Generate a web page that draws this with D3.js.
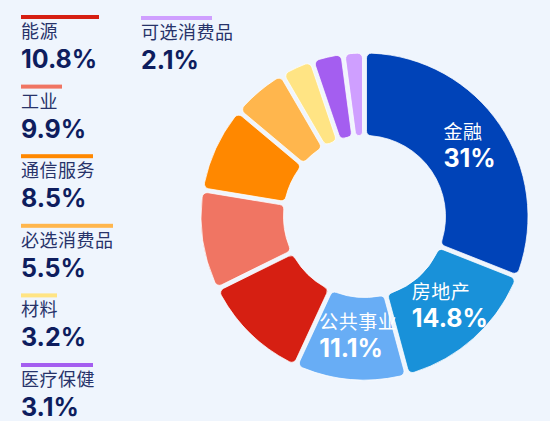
<!DOCTYPE html>
<meta charset="utf-8">
<head>
  <title>Sector donut</title>
</head>
<body>
<style>
body { margin: 0; background: #eff5fd; }
svg { display: block; }
.lg-name { font: 18px "Noto Sans CJK SC", sans-serif; fill: #27336a; letter-spacing: 0.5px; }
.lg-val { font: bold 25px Inter, "Noto Sans CJK SC", sans-serif; fill: #0e1d5e; }
.in-name { font: 19px "Noto Sans CJK SC", sans-serif; fill: #fff; letter-spacing: 0.5px; }
.in-val { font: bold 25px Inter, "Noto Sans CJK SC", sans-serif; fill: #fff; }
.arc path { stroke: rgba(255,255,255,0.75); stroke-width: 1; }
</style>
<svg width="550" height="421"></svg>
<script src="https://d3js.org/d3.v7.min.js"></script>
<script>

var sectors = ["金融", "房地产", "公共事业", "能源", "工业", "通信服务", "必选消费品", "材料", "医疗保健", "可选消费品"];
var shares  = [31, 14.8, 11.1, 10.8, 9.9, 8.5, 5.5, 3.2, 3.1, 2.1];
var colors  = ["#0043b8", "#1991d9", "#68adf5", "#d61f12", "#f07563", "#ff8800", "#ffb64d", "#ffe484", "#a45ef0", "#cf9fff"];
// the first three are labelled on the ring, the rest go in the legend
var inside  = ["金融", "房地产", "公共事业"];

var data = sectors.map(function(s, i) { return { name: s, value: shares[i] }; });

var svg = d3.select("svg"),
    cx = 364.5, cy = 216.5,
    outer = 163.5, inner = 81;

var color = d3.scaleOrdinal(sectors, colors);

var pie = d3.pie()
    .sort(null)
    .value(function(d) { return d.value; });

var path = d3.arc()
    .outerRadius(outer)
    .innerRadius(inner)
    .cornerRadius(5)
    .padAngle(4 / Math.sqrt(inner * inner + outer * outer));

var fmt = function(v) { return v + "%"; };

var g = svg.append("g").attr("transform", "translate(" + cx + "," + cy + ")");

var arc = g.selectAll(".arc")
    .data(pie(data))
    .enter().append("g")
    .attr("class", "arc");

arc.append("path")
    .attr("d", path)
    .attr("fill", function(d) { return color(d.data.name); });

// labels inside the ring, left aligned, block centred on the centroid
arc.filter(function(d) { return inside.indexOf(d.data.name) >= 0; })
  .each(function(d) {
    var c = path.centroid(d),
        lab = d3.select(this).append("g");
    var t1 = lab.append("text").attr("class", "in-name").attr("y", c[1] - 9).text(d.data.name);
    var t2 = lab.append("text").attr("class", "in-val").attr("y", c[1] + 19).text(fmt(d.data.value));
    var w = Math.max(t1.node().getComputedTextLength(), t2.node().getComputedTextLength());
    lab.selectAll("text").attr("x", c[0] - w / 2 + 4);
  });

// legend
var legendItems = data.filter(function(d) { return inside.indexOf(d.name) < 0; });
var barW = [78, 41, 72, 92, 36, 72, 71];
var perCol = 6, step = 69.6, colX = [21, 141], legendTop = 15;

var lg = svg.selectAll(".lg")
    .data(legendItems)
    .enter().append("g")
    .attr("class", "lg")
    .attr("transform", function(d, i) {
      var col = Math.floor(i / perCol), row = i % perCol;
      return "translate(" + colX[col] + "," + (legendTop + row * step + (col ? 1 : 0)) + ")";
    });

lg.append("rect")
    .attr("width", function(d, i) { return barW[i]; })
    .attr("height", 4)
    .attr("fill", function(d) { return color(d.name); });

lg.append("text")
    .attr("class", "lg-name")
    .attr("y", 23)
    .text(function(d) { return d.name; });

lg.append("text")
    .attr("class", "lg-val")
    .attr("y", 53)
    .text(function(d) { return fmt(d.value); });

</script>
</body>
</html>
